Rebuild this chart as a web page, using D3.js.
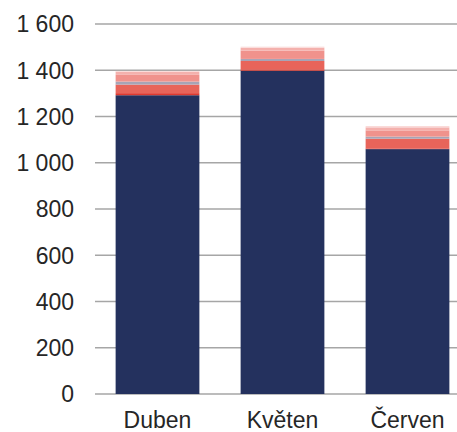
<!DOCTYPE html>
<html><head><meta charset="utf-8">
<script src="https://cdn.jsdelivr.net/npm/d3@7"></script>
<style>body{margin:0;background:#fff}svg{display:block}</style>
</head><body>
<svg id="c" width="457" height="432"></svg>
<script>
const months = ["Duben", "Květen", "Červen"];
const seriesNames = ["s1", "s2", "s3", "s4", "s5", "s6", "s7"];
const s1 = [1292, 1398, 1059];
const s2 = [9, 6, 3];
const s3 = [37, 36, 42];
const s4 = [13, 9, 9];
const s5 = [29, 36, 27];
const s6 = [14, 12, 13];
const s7 = [3, 5, 6];
const colors = ["#24315e", "#df3a30", "#e8645a", "#a7a4b6", "#f0928c", "#f4b1ad", "#fadad8"];
const yTicks = [0, 200, 400, 600, 800, 1000, 1200, 1400, 1600];

const vals = [s1, s2, s3, s4, s5, s6, s7];
const data = months.map((m, i) => {
  const o = {month: m};
  seriesNames.forEach((s, k) => o[s] = vals[k][i]);
  return o;
});
const stacked = d3.stack().keys(seriesNames)(data);

const svg = d3.select("#c");
const x = d3.scaleBand().domain(months).range([95, 470]).paddingInner(0.33).paddingOuter(0.165);
const y = d3.scaleLinear().domain([0, 1600]).range([394, 24]);
const fmt = v => d3.format(",")(v).replace(/,/g, "\u00a0");

svg.append("g").selectAll("line").data(yTicks).join("line")
  .attr("x1", 95).attr("x2", 457)
  .attr("y1", d => y(d)).attr("y2", d => y(d))
  .attr("stroke", "#a6a6a6").attr("stroke-width", 1.5);

svg.append("g").selectAll("text").data(yTicks).join("text")
  .attr("x", 74).attr("y", d => y(d)).attr("dy", "0.36em")
  .attr("text-anchor", "end")
  .attr("font-family", "Liberation Sans, Arial, sans-serif")
  .attr("font-size", 23).attr("fill", "#262626")
  .text(fmt);

svg.append("g").selectAll("g").data(stacked).join("g")
  .attr("fill", (d, i) => colors[i])
  .selectAll("rect").data(d => d).join("rect")
  .attr("x", d => x(d.data.month))
  .attr("width", x.bandwidth())
  .attr("y", d => y(d[1]))
  .attr("height", d => y(d[0]) - y(d[1]));

svg.append("g").selectAll("text").data(months).join("text")
  .attr("x", d => x(d) + x.bandwidth() / 2).attr("y", 428)
  .attr("text-anchor", "middle")
  .attr("font-family", "Liberation Sans, Arial, sans-serif")
  .attr("font-size", 23).attr("fill", "#262626")
  .text(d => d);
</script>
</body></html>
